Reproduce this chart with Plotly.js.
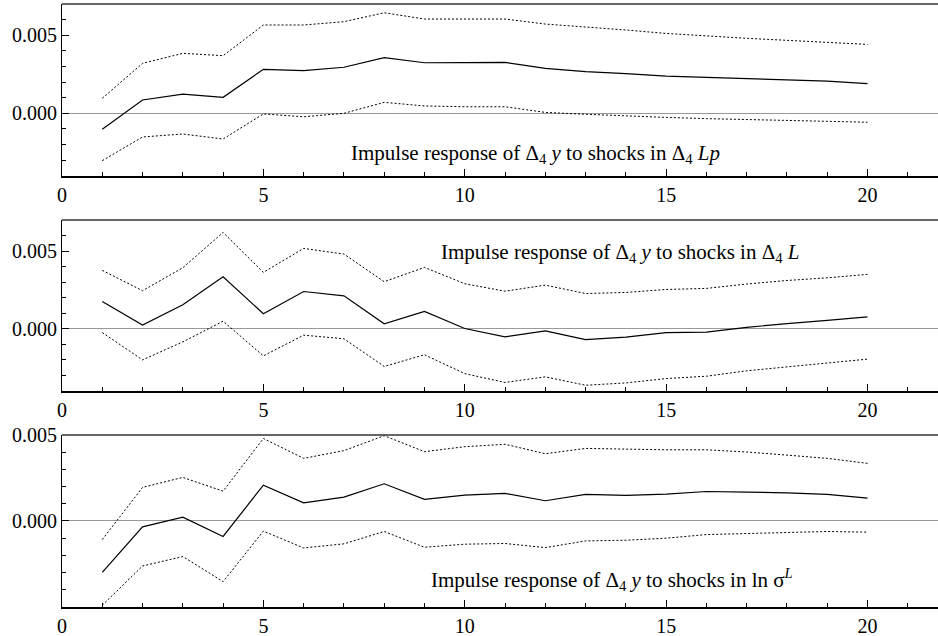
<!DOCTYPE html>
<html>
<head>
<meta charset="utf-8">
<script src="https://cdn.plot.ly/plotly-3.0.1.min.js"></script>
<style>html,body{margin:0;padding:0;background:#fff;}#chart{width:938px;height:636px;}</style>
</head>
<body>
<div id="chart"></div>
<script>
// Horizon (periods)
const horizon = [1,2,3,4,5,6,7,8,9,10,11,12,13,14,15,16,17,18,19,20];

// Panel 1: response of Δ4 y to shocks in Δ4 Lp
const lpMid   = [-0.00102,0.00085,0.00123,0.00102,0.00281,0.00272,0.00294,0.00355,0.00323,0.00323,0.00325,0.00287,0.00266,0.00253,0.00238,0.0023,0.00221,0.00213,0.00206,0.00189];
const lpUpper = [0.00096,0.00319,0.00383,0.00368,0.00564,0.00564,0.00585,0.00642,0.00602,0.00602,0.00602,0.0057,0.00553,0.00532,0.0051,0.00493,0.00479,0.00466,0.00455,0.0044];
const lpLower = [-0.00302,-0.00151,-0.00132,-0.00164,-0.00004,-0.00022,0.0,0.0007,0.00047,0.00042,0.00042,0.00006,-0.00006,-0.00017,-0.00026,-0.00034,-0.00041,-0.00045,-0.00051,-0.00057];

// Panel 2: response of Δ4 y to shocks in Δ4 L
const lMid   = [0.00176,0.00024,0.00155,0.00335,0.00097,0.0024,0.00212,0.00032,0.00112,0.00002,-0.00052,-0.00013,-0.00069,-0.00054,-0.00024,-0.00021,0.00009,0.00034,0.00054,0.00077];
const lUpper = [0.00376,0.00245,0.00393,0.0062,0.00363,0.00517,0.00481,0.00303,0.00395,0.0029,0.00242,0.00281,0.00227,0.00234,0.00253,0.0026,0.00288,0.00311,0.00328,0.0035];
const lLower = [-0.00024,-0.002,-0.00084,0.00049,-0.00174,-0.00041,-0.00064,-0.00242,-0.00167,-0.00288,-0.00345,-0.00309,-0.00363,-0.00348,-0.0032,-0.00305,-0.0027,-0.00245,-0.00221,-0.00195];

// Panel 3: response of Δ4 y to shocks in ln σ^L
const sMid   = [-0.003,-0.00035,0.00021,-0.00091,0.00208,0.00105,0.00138,0.00216,0.00125,0.0015,0.0016,0.00117,0.00154,0.00148,0.00156,0.00171,0.00167,0.00163,0.00154,0.00132];
const sUpper = [-0.00109,0.00195,0.00253,0.00173,0.0048,0.00364,0.00409,0.00496,0.00403,0.00432,0.00446,0.00391,0.00422,0.00416,0.00414,0.00414,0.00401,0.00383,0.00364,0.00335];
const sLower = [-0.00492,-0.00263,-0.00208,-0.00354,-0.0006,-0.00158,-0.00134,-0.00062,-0.00154,-0.00136,-0.00132,-0.00156,-0.00117,-0.00113,-0.00101,-0.0008,-0.00074,-0.00066,-0.00062,-0.00066];

const xTickVals = [0,5,10,15,20];
const yTickVals = [0, 0.005];
const yTickText = ['0.000','0.005'];

const FONT = '"Liberation Serif", "Times New Roman", serif';
const panels = [
  {mid: lpMid, up: lpUpper, lo: lpLower, xa:'x', ya:'y'},
  {mid: lMid,  up: lUpper,  lo: lLower,  xa:'x2', ya:'y2'},
  {mid: sMid,  up: sUpper,  lo: sLower,  xa:'x3', ya:'y3'}
];

const traces = [];
panels.forEach(p => {
  traces.push({x: horizon, y: p.up, xaxis: p.xa, yaxis: p.ya, mode:'lines', line:{color:'#000', width:1, dash:'2px,2px'}, hoverinfo:'skip'});
  traces.push({x: horizon, y: p.lo, xaxis: p.xa, yaxis: p.ya, mode:'lines', line:{color:'#000', width:1, dash:'2px,2px'}, hoverinfo:'skip'});
  traces.push({x: horizon, y: p.mid, xaxis: p.xa, yaxis: p.ya, mode:'lines', line:{color:'#000', width:1.2}, hoverinfo:'skip'});
});

function xaxis(anchor) {
  return {
    anchor: anchor, domain:[0,1], range:[0,21.75], tickmode:'array', tickvals: xTickVals,
    ticks:'inside', ticklen:7, tickwidth:1, tickcolor:'#000',
    minor:{dtick:1, tick0:0, ticks:'inside', ticklen:4, tickwidth:1, tickcolor:'#000'},
    showline:true, linecolor:'#000', linewidth:2, showgrid:false, zeroline:false,
    tickfont:{family:FONT, size:20, color:'#000'}
  };
}
function yaxis(anchor, domain, range) {
  return {
    anchor: anchor, domain: domain, range: range, tickmode:'array', tickvals: yTickVals, ticktext: yTickText,
    ticks:'inside', ticklen:7, tickwidth:1, tickcolor:'#000',
    minor:{dtick:0.001, tick0:0, ticks:'inside', ticklen:4, tickwidth:1, tickcolor:'#000'},
    showline:true, linecolor:'#000', linewidth:1, showgrid:false,
    zeroline:true, zerolinecolor:'#999', zerolinewidth:1,
    tickfont:{family:FONT, size:20, color:'#000'}
  };
}

const annFont = {family:FONT, size:21, color:'#000'};
const layout = {
  width:938, height:636, showlegend:false,
  font:{family:FONT, size:20, color:'#000'},
  margin:{l:62, r:0, t:4, b:29},
  paper_bgcolor:'#fff', plot_bgcolor:'#fff',
  xaxis: xaxis('y'), xaxis2: xaxis('y2'), xaxis3: xaxis('y3'),
  yaxis: yaxis('x', [0.7148,1], [-0.0040,0.00698]),
  yaxis2: yaxis('x2', [0.3582,0.6418], [-0.0040,0.0070]),
  yaxis3: yaxis('x3', [0,0.2852], [-0.00502,0.005]),
  shapes: [
    {type:'line', xref:'paper', yref:'y domain', x0:0, x1:1, y0:1, y1:1, line:{color:'#333', width:1.5}},
    {type:'line', xref:'paper', yref:'y2 domain', x0:0, x1:1, y0:1, y1:1, line:{color:'#333', width:1.5}},
    {type:'line', xref:'paper', yref:'y3 domain', x0:0, x1:1, y0:1, y1:1, line:{color:'#333', width:1.5}}
  ],
  annotations: [
    {xref:'x', yref:'y', x:7.12, y:-0.0026, xanchor:'left', yanchor:'middle', showarrow:false, font:annFont,
     text:'Impulse response of Δ<sub>4</sub> <i>y</i> to shocks in Δ<sub>4</sub> <i>Lp</i>'},
    {xref:'x2', yref:'y2', x:9.36, y:0.0049, xanchor:'left', yanchor:'middle', showarrow:false, font:annFont,
     text:'Impulse response of Δ<sub>4</sub> <i>y</i> to shocks in Δ<sub>4</sub> <i>L</i>'},
    {xref:'x3', yref:'y3', x:9.1, y:-0.0034, xanchor:'left', yanchor:'middle', showarrow:false, font:annFont,
     text:'Impulse response of Δ<sub>4</sub> <i>y</i> to shocks in ln σ<sup><i>L</i></sup>'}
  ]
};

Plotly.newPlot('chart', traces, layout, {displayModeBar:false, staticPlot:true});
</script>
</body>
</html>
